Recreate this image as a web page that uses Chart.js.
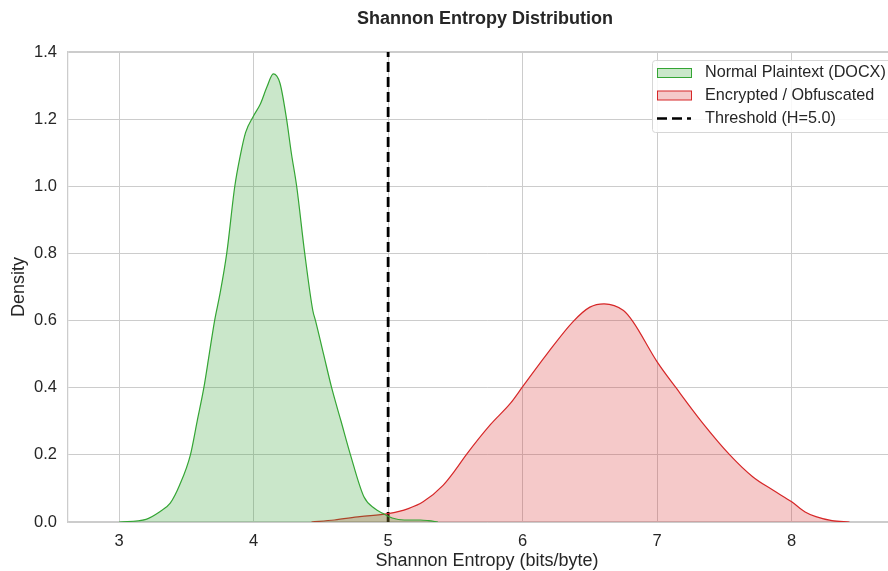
<!DOCTYPE html>
<html>
<head>
<meta charset="utf-8">
<title>Shannon Entropy Distribution</title>
<script src="https://cdn.jsdelivr.net/npm/chart.js@4.4.1/dist/chart.umd.min.js"></script>
<style>
  html,
  body {
    margin: 0;
    padding: 0;
    background: #ffffff;
    overflow: hidden;
  }
</style>
</head>
<body>
<!-- canvas is a bit wider than the window: the original figure is cropped on the right -->
<canvas id="entropyChart" width="906" height="571"></canvas>
<script>
// Data (KDE curves)

const normalEntropy = [
  3.0, 3.2, 3.3, 3.38, 3.45, 3.53, 3.58, 3.63, 3.67, 3.71, 3.75, 3.8, 3.86,
  3.9, 3.94, 4.0, 4.05, 4.1, 4.146, 4.196, 4.245, 4.28, 4.32, 4.38, 4.44,
  4.46, 4.52, 4.58, 4.65, 4.72, 4.82, 4.9, 4.96, 5.03, 5.12, 5.24, 5.3, 5.37,
];
const normalDensity = [
  0.0, 0.008, 0.03, 0.056, 0.11, 0.2, 0.3, 0.4, 0.5, 0.6, 0.68, 0.8, 1.0,
  1.09, 1.16, 1.21, 1.245, 1.297, 1.335, 1.307, 1.2, 1.1, 1.0, 0.8, 0.63,
  0.6, 0.5, 0.4, 0.3, 0.2, 0.075, 0.04, 0.026, 0.012, 0.006, 0.006, 0.004, 0.0,
];

const encryptedEntropy = [
  4.43, 4.6, 4.79, 5.0, 5.15, 5.26, 5.41, 5.5, 5.58, 5.76, 5.91, 6.0, 6.18,
  6.375, 6.5, 6.605, 6.75, 6.82, 7.0, 7.14, 7.34, 7.54, 7.71, 7.86, 8.0, 8.1,
  8.18, 8.3, 8.43,
];
const encryptedDensity = [
  0.0, 0.006, 0.016, 0.025, 0.04, 0.06, 0.11, 0.155, 0.2, 0.29, 0.354, 0.403,
  0.5, 0.597, 0.64, 0.65, 0.63, 0.597, 0.477, 0.4, 0.294, 0.2, 0.135, 0.095,
  0.06, 0.03, 0.016, 0.004, 0.0,
];

const threshold = 5.0;

const xTicks = [3, 4, 5, 6, 7, 8];
const yTicks = [0, 0.2, 0.4, 0.6, 0.8, 1.0, 1.2, 1.4];

const seriesLabels = [
  "Normal Plaintext (DOCX)",
  "Encrypted / Obfuscated",
  "Threshold (H=5.0)",
];

const chartTitle = "Shannon Entropy Distribution";
const xTitle = "Shannon Entropy (bits/byte)";
const yTitle = "Density";

// colours
const green = "#34a534";
const greenFill = "rgba(44, 160, 44, 0.25)";
const red = "#d62728";
const redFill = "rgba(214, 39, 40, 0.25)";
const gridColor = "#cccccc";
const textColor = "#262626";
const fontFamily = "'Liberation Sans', Arial, sans-serif";

function toPoints(xs, ys) {
  return xs.map((x, i) => ({ x: x, y: ys[i] }));
}

// title + legend box drawn on top
const overlayPlugin = {
  id: "overlay",
  afterDraw(chart) {
    const { ctx, chartArea } = chart;
    ctx.save();

    ctx.fillStyle = textColor;
    ctx.font = "bold 18px " + fontFamily;
    ctx.textAlign = "center";
    ctx.textBaseline = "alphabetic";
    ctx.fillText(chartTitle, (chartArea.left + chartArea.right) / 2 - 2, 24);

    // legend frame
    ctx.beginPath();
    ctx.roundRect(652.5, 60.5, 245, 72, 3);
    ctx.fillStyle = "rgba(255, 255, 255, 0.85)";
    ctx.fill();
    ctx.strokeStyle = "#d6d6d6";
    ctx.lineWidth = 1;
    ctx.stroke();

    const rows = [73, 95.5, 118.5];
    const patches = [
      [greenFill, green],
      [redFill, red],
    ];

    patches.forEach((p, i) => {
      ctx.fillStyle = p[0];
      ctx.fillRect(657.5, rows[i] - 4.5, 34, 9);
      ctx.strokeStyle = p[1];
      ctx.lineWidth = 1;
      ctx.strokeRect(657.5, rows[i] - 4.5, 34, 9);
    });

    ctx.beginPath();
    ctx.setLineDash([10, 5]);
    ctx.strokeStyle = "#000000";
    ctx.lineWidth = 2.6;
    ctx.moveTo(657, rows[2]);
    ctx.lineTo(691, rows[2]);
    ctx.stroke();
    ctx.setLineDash([]);

    ctx.fillStyle = textColor;
    ctx.font = "16.2px " + fontFamily;
    ctx.textAlign = "left";
    ctx.textBaseline = "middle";
    seriesLabels.forEach((label, i) => {
      ctx.fillText(label, 705, rows[i]);
    });

    ctx.restore();
  },
};

const ctx = document.getElementById("entropyChart").getContext("2d");

const entropyChart = new Chart(ctx, {
  type: "line",
  data: {
    datasets: [
      {
        label: seriesLabels[0],
        data: toPoints(normalEntropy, normalDensity),
        borderColor: green,
        backgroundColor: greenFill,
        borderWidth: 1.2,
        fill: "origin",
        pointRadius: 0,
        cubicInterpolationMode: "monotone",
      },
      {
        label: seriesLabels[1],
        data: toPoints(encryptedEntropy, encryptedDensity),
        borderColor: red,
        backgroundColor: redFill,
        borderWidth: 1.2,
        fill: "origin",
        pointRadius: 0,
        cubicInterpolationMode: "monotone",
      },
      {
        label: seriesLabels[2],
        data: [
          { x: threshold, y: yTicks[0] },
          { x: threshold, y: yTicks[yTicks.length - 1] },
        ],
        borderColor: "#000000",
        borderWidth: 2.8,
        borderDash: [10, 5],
        fill: false,
        pointRadius: 0,
        tension: 0,
      },
    ],
  },
  options: {
    responsive: false,
    animation: false,
    layout: {
      padding: { top: 52, right: 0, bottom: 0, left: 0 },
    },
    plugins: {
      legend: { display: false },
      title: { display: false },
      tooltip: { enabled: false },
    },
    scales: {
      x: {
        type: "linear",
        min: 2.62,
        max: 8.85,
        afterBuildTicks: (axis) => {
          axis.ticks = xTicks.map((v) => ({ value: v }));
        },
        afterFit: (axis) => {
          axis.height = 49;
        },
        grid: { color: gridColor, lineWidth: 1, drawTicks: false },
        border: { display: true, color: gridColor, width: 1.25 },
        ticks: {
          padding: 10,
          color: textColor,
          font: { family: fontFamily, size: 16.5 },
          callback: (v) => v.toString(),
        },
        title: {
          display: true,
          text: xTitle,
          color: textColor,
          font: { family: fontFamily, size: 18 },
          padding: { top: 0, bottom: -1 },
        },
      },
      y: {
        min: 0,
        max: 1.4,
        afterBuildTicks: (axis) => {
          axis.ticks = yTicks.map((v) => ({ value: v }));
        },
        afterFit: (axis) => {
          axis.width = 68;
        },
        grid: {
          color: gridColor,
          lineWidth: (c) => (c.tick && c.tick.value === 1.4 ? 2 : 1),
          drawTicks: false,
        },
        border: { display: true, color: gridColor, width: 1.25 },
        ticks: {
          padding: 11,
          color: textColor,
          font: { family: fontFamily, size: 16.5 },
          callback: (v) => v.toFixed(1),
        },
        title: {
          display: true,
          text: yTitle,
          color: textColor,
          font: { family: fontFamily, size: 18 },
          padding: { top: 8, bottom: 0 },
        },
      },
    },
  },
  plugins: [overlayPlugin],
});
</script>
</body>
</html>
